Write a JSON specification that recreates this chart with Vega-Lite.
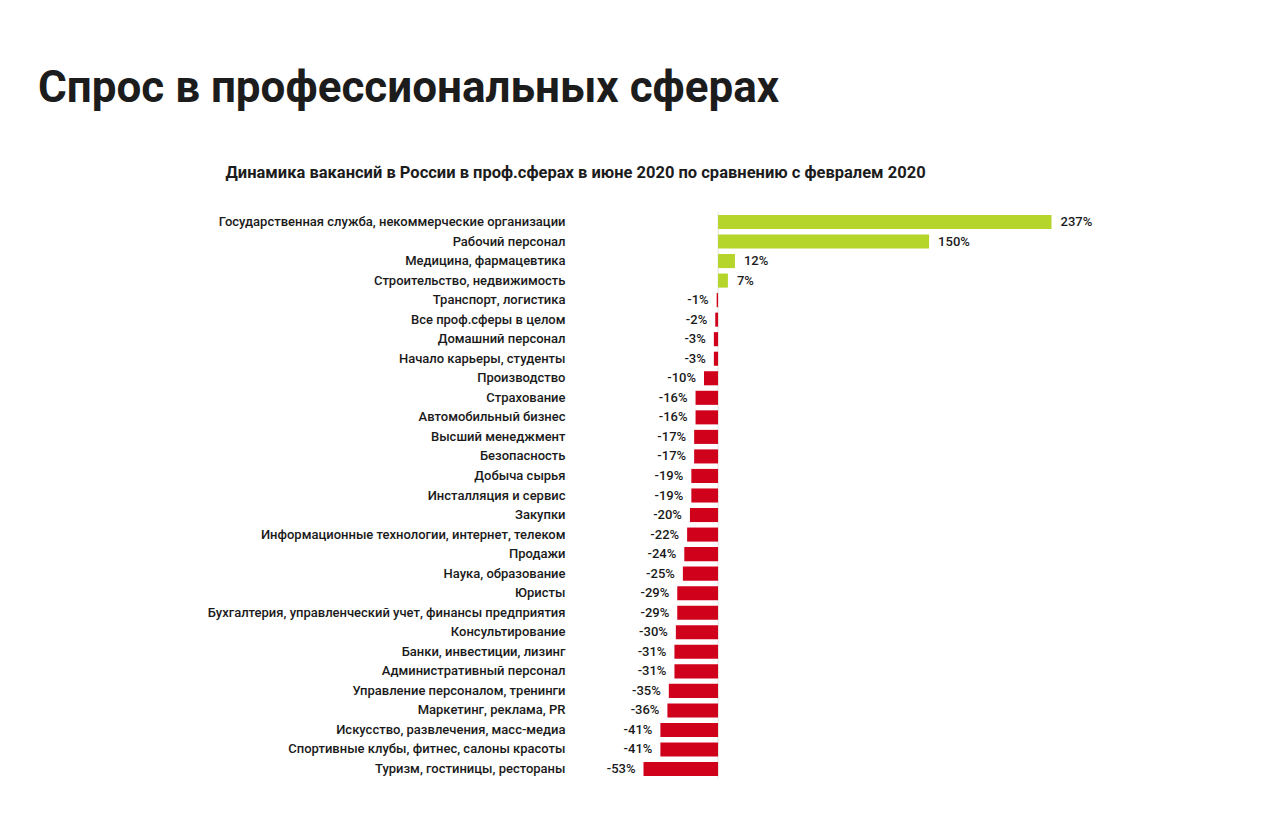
{
  "$schema": "https://vega.github.io/schema/vega-lite/v6.json",
  "width": 408,
  "height": 566.6,
  "autosize": "none",
  "padding": {"left": 643.5, "top": 212.2, "right": 228.5, "bottom": 54.2},
  "background": "white",
  "config": {
    "view": {"stroke": null},
    "font": "Roboto",
    "locale": {"number": {"decimal": ".", "thousands": ",", "grouping": [3], "currency": ["", ""], "minus": "-"}}
  },
  "title": {
    "text": "Спрос в профессиональных сферах",
    "anchor": "start",
    "frame": "group",
    "font": "Roboto",
    "fontSize": 44,
    "fontWeight": "bold",
    "color": "#1c1c1c",
    "baseline": "alphabetic",
    "dx": -605.5,
    "offset": 18
  },
  "data": {
    "values": [
      {"sphere": "Государственная служба, некоммерческие организации", "v": 2.37},
      {"sphere": "Рабочий персонал", "v": 1.50},
      {"sphere": "Медицина, фармацевтика", "v": 0.12},
      {"sphere": "Строительство, недвижимость", "v": 0.07},
      {"sphere": "Транспорт, логистика", "v": -0.01},
      {"sphere": "Все проф.сферы в целом", "v": -0.02},
      {"sphere": "Домашний персонал", "v": -0.03},
      {"sphere": "Начало карьеры, студенты", "v": -0.03},
      {"sphere": "Производство", "v": -0.10},
      {"sphere": "Страхование", "v": -0.16},
      {"sphere": "Автомобильный бизнес", "v": -0.16},
      {"sphere": "Высший менеджмент", "v": -0.17},
      {"sphere": "Безопасность", "v": -0.17},
      {"sphere": "Добыча сырья", "v": -0.19},
      {"sphere": "Инсталляция и сервис", "v": -0.19},
      {"sphere": "Закупки", "v": -0.20},
      {"sphere": "Информационные технологии, интернет, телеком", "v": -0.22},
      {"sphere": "Продажи", "v": -0.24},
      {"sphere": "Наука, образование", "v": -0.25},
      {"sphere": "Юристы", "v": -0.29},
      {"sphere": "Бухгалтерия, управленческий учет, финансы предприятия", "v": -0.29},
      {"sphere": "Консультирование", "v": -0.30},
      {"sphere": "Банки, инвестиции, лизинг", "v": -0.31},
      {"sphere": "Административный персонал", "v": -0.31},
      {"sphere": "Управление персоналом, тренинги", "v": -0.35},
      {"sphere": "Маркетинг, реклама, PR", "v": -0.36},
      {"sphere": "Искусство, развлечения, масс-медиа", "v": -0.41},
      {"sphere": "Спортивные клубы, фитнес, салоны красоты", "v": -0.41},
      {"sphere": "Туризм, гостиницы, рестораны", "v": -0.53}
    ]
  },
  "encoding": {
    "y": {
      "field": "sphere",
      "type": "nominal",
      "sort": null,
      "scale": {"paddingInner": 0.28, "paddingOuter": 0.14},
      "axis": {
        "title": null,
        "domain": false,
        "ticks": false,
        "labelPadding": 78.5,
        "labelFontSize": 13,
        "labelFontWeight": 500,
        "labelColor": "#1a1a1a",
        "labelFont": "Roboto",
        "labelLimit": 0
      }
    }
  },
  "layer": [
    {
      "mark": {"type": "rule", "color": "#e3e3e3", "strokeWidth": 1},
      "data": {"values": [{"z": 0}]},
      "encoding": {"x": {"field": "z", "type": "quantitative"}, "y": null}
    },
    {
      "mark": {"type": "bar"},
      "encoding": {
        "x": {
          "field": "v",
          "type": "quantitative",
          "scale": {"domain": [-0.53, 2.37], "nice": false, "zero": true},
          "axis": {
            "orient": "top",
            "labels": false,
            "ticks": false,
            "domain": false,
            "grid": false,
            "title": "Динамика вакансий в России в проф.сферах в июне 2020 по сравнению с февралем 2020",
            "titleFont": "Roboto",
            "titleFontSize": 16.5,
            "titleFontWeight": "bold",
            "titleColor": "#1c1c1c",
            "titleAlign": "left",
            "titleBaseline": "alphabetic",
            "titleX": -418.5,
            "titleY": -35
          }
        },
        "color": {
          "condition": {"test": "datum.v > 0", "value": "#b6d52a"},
          "value": "#d0021b"
        }
      }
    },
    {
      "transform": [{"filter": "datum.v > 0"}],
      "mark": {"type": "text", "align": "left", "dx": 9, "fontSize": 13, "fontWeight": 500, "color": "#1a1a1a", "font": "Roboto"},
      "encoding": {
        "x": {"field": "v", "type": "quantitative"},
        "text": {"field": "v", "type": "quantitative", "format": ".0%"}
      }
    },
    {
      "transform": [{"filter": "datum.v < 0"}],
      "mark": {"type": "text", "align": "right", "dx": -8, "fontSize": 13, "fontWeight": 500, "color": "#1a1a1a", "font": "Roboto"},
      "encoding": {
        "x": {"field": "v", "type": "quantitative"},
        "text": {"field": "v", "type": "quantitative", "format": ".0%"}
      }
    }
  ]
}
